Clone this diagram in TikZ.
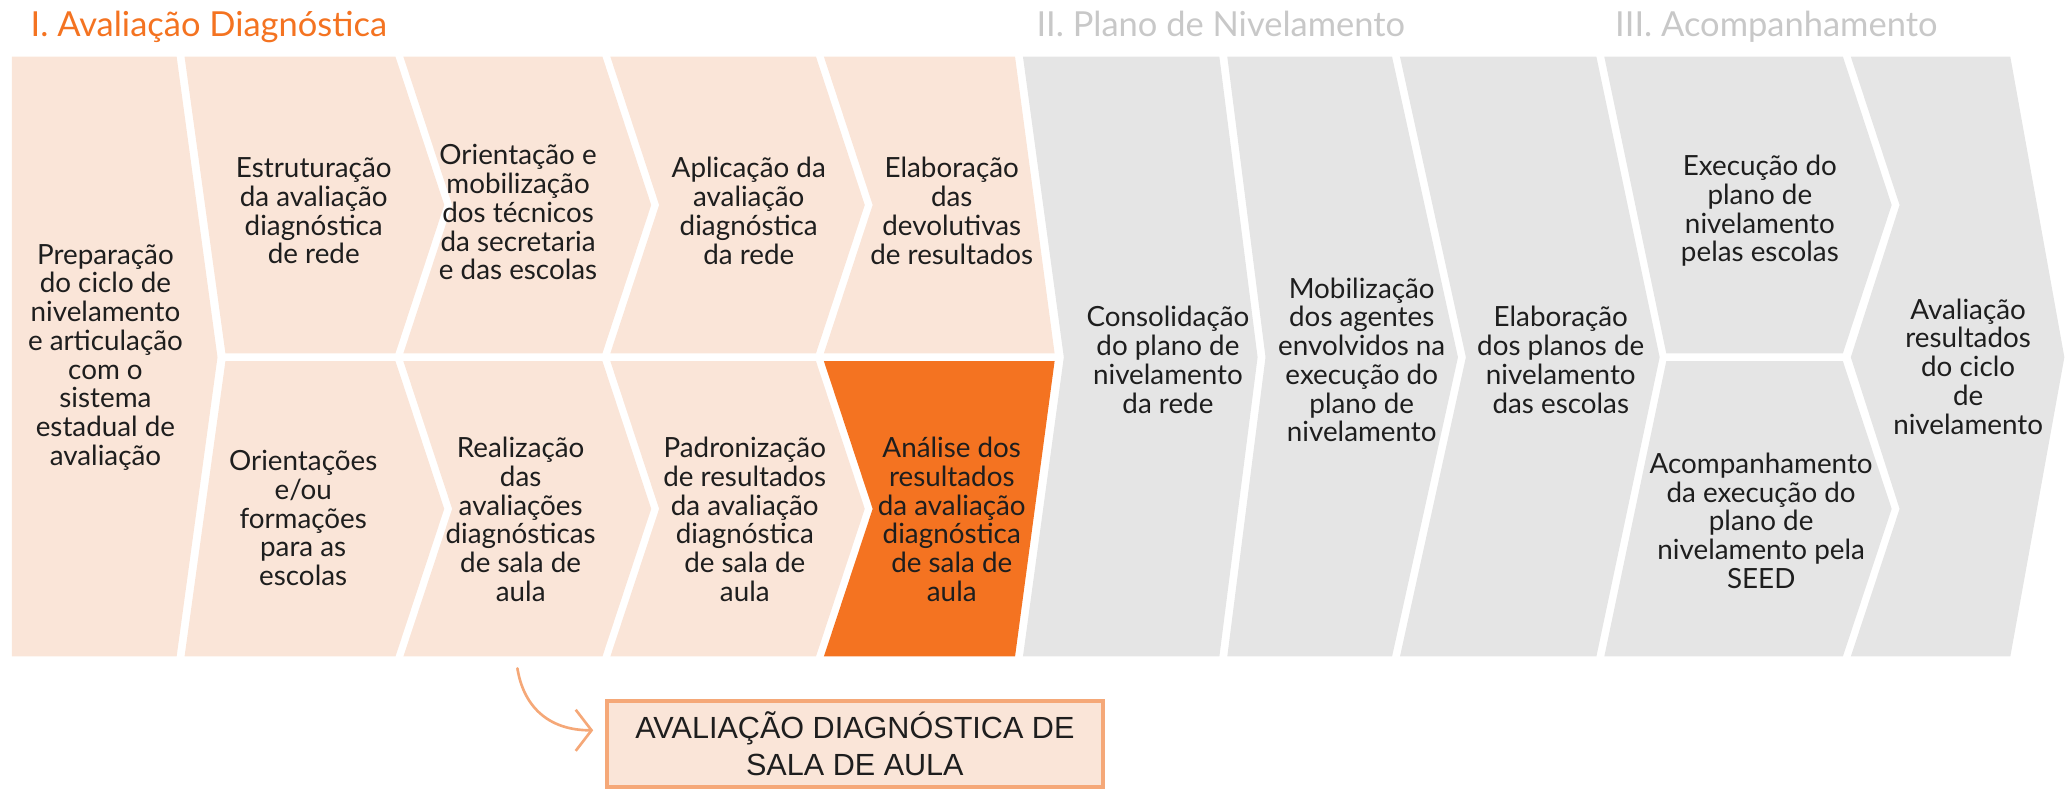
\documentclass[tikz,border=0pt]{standalone}
\usepackage{fontspec}
\setmainfont{Lato}
\newfontfamily\capsfont{Liberation Sans}
\usetikzlibrary{arrows.meta}

\definecolor{pessego}{HTML}{FAE5D8}
\definecolor{laranja}{HTML}{F47321}
\definecolor{cinza}{HTML}{E5E5E5}
\definecolor{cinzatitulo}{HTML}{C8C8C8}
\definecolor{salmao}{HTML}{F5A878}
\definecolor{texto}{HTML}{1E1E1E}

\begin{document}
\begin{tikzpicture}[yscale=-1, x=0.025cm, y=0.025cm,
    celltext/.style={align=center, text=texto, inner sep=0pt, font=\fontsize{15}{15.5}\selectfont},
    phasetitle/.style={anchor=base west, inner sep=0pt, font=\fontsize{18.6}{20}\selectfont}]
    \useasboundingbox (0,0) rectangle (1568,599);

    % Draw the phase titles
    \node[phasetitle, text=laranja] (faseUm) at (23,28) {I. Avaliação Diagnóstica};
    \node[phasetitle, text=cinzatitulo] (faseDois) at (786,28) {II. Plano de Nivelamento};
    \node[phasetitle, text=cinzatitulo] (faseTres) at (1225,28) {III. Acompanhamento};

    % Draw the chevrons of phase I
    \fill[pessego] (9,43) -- (134,43) -- (165,271) -- (134,498) -- (9,498) -- cycle;
    \fill[pessego] (140,43) -- (300,43) -- (337,155.5) -- (300,268) -- (171,268) -- cycle;
    \fill[pessego] (171,274) -- (300,274) -- (337,386) -- (300,498) -- (140,498) -- cycle;
    \fill[pessego] (306,43) -- (457,43) -- (494,155.5) -- (457,268) -- (306,268) -- (343,155.5) -- cycle;
    \fill[pessego] (306,274) -- (457,274) -- (494,386) -- (457,498) -- (306,498) -- (343,386) -- cycle;
    \fill[pessego] (463,43) -- (619,43) -- (656,155.5) -- (619,268) -- (463,268) -- (500,155.5) -- cycle;
    \fill[pessego] (463,274) -- (619,274) -- (656,386) -- (619,498) -- (463,498) -- (500,386) -- cycle;
    \fill[pessego] (625,43) -- (770,43) -- (800,268) -- (625,268) -- (662,155.5) -- cycle;
    \fill[laranja] (625,274) -- (800,274) -- (770,498) -- (625,498) -- (662,386) -- cycle;

    % Draw the chevrons of phases II and III
    \fill[cinza] (776,43) -- (925,43) -- (954,271) -- (925,498) -- (776,498) -- (807,271) -- cycle;
    \fill[cinza] (931,43) -- (1056,43) -- (1106,271) -- (1056,498) -- (931,498) -- (960,271) -- cycle;
    \fill[cinza] (1062,43) -- (1211,43) -- (1259,271) -- (1211,498) -- (1062,498) -- (1112,271) -- cycle;
    \fill[cinza] (1217,43) -- (1398,43) -- (1435,155.5) -- (1398,268) -- (1264,268) -- cycle;
    \fill[cinza] (1264,274) -- (1398,274) -- (1435,386) -- (1398,498) -- (1217,498) -- cycle;
    \fill[cinza] (1404,43) -- (1525,43) -- (1566,271) -- (1525,498) -- (1404,498) -- (1441,386)
        -- (1404,271) -- (1441,155.5) -- cycle;

    % Draw the step labels
    \node[celltext] (prep) at (80,271) {Preparação\\do ciclo de\\nivelamento\\e articulação\\com o\\sistema\\estadual de\\avaliação};
    \node[celltext] (estrut) at (238,160) {Estruturação\\da avaliação\\diagnóstica\\de rede};
    \node[celltext] (orientTec) at (393,161) {Orientação e\\mobilização\\dos técnicos\\da secretaria\\e das escolas};
    \node[celltext] (aplic) at (568,160) {Aplicação da\\avaliação\\diagnóstica\\da rede};
    \node[celltext] (devol) at (722,160) {Elaboração\\das\\devolutivas\\de resultados};
    \node[celltext] (orientEsc) at (230,393) {Orientações\\e/ou\\formações\\para as\\escolas};
    \node[celltext] (realiz) at (395,394) {Realização\\das\\avaliações\\diagnósticas\\de sala de\\aula};
    \node[celltext] (padron) at (565,394) {Padronização\\de resultados\\da avaliação\\diagnóstica\\de sala de\\aula};
    \node[celltext] (analise) at (722,394) {Análise dos\\resultados\\da avaliação\\diagnóstica\\de sala de\\aula};
    \node[celltext] (consol) at (886,273) {Consolidação\\do plano de\\nivelamento\\da rede};
    \node[celltext] (mobil) at (1033,273) {Mobilização\\dos agentes\\envolvidos na\\execução do\\plano de\\nivelamento};
    \node[celltext] (elabEsc) at (1184,273) {Elaboração\\dos planos de\\nivelamento\\das escolas};
    \node[celltext] (execEsc) at (1335,160) {Execução do\\plano de\\nivelamento\\pelas escolas};
    \node[celltext] (acomp) at (1336,395) {Acompanhamento\\da execução do\\plano de\\nivelamento pela\\SEED};
    \node[celltext] (avalRes) at (1493,278) {Avaliação\\resultados\\do ciclo\\de\\nivelamento};

    % Draw the classroom box and the arrow
    \node[draw=salmao, line width=0.075cm, fill=pessego, minimum width=9.4cm, minimum height=1.64cm,
        inner sep=0pt, align=center, text=texto, font=\capsfont\fontsize{16.5}{19.9}\selectfont]
        (sala) at (648.5,564.25) {AVALIAÇÃO DIAGNÓSTICA DE\\SALA DE AULA};
    \coordinate (arrStart) at (392.5,507);
    \coordinate (arrTip) at (450,554);
    \draw[salmao, line width=0.05cm, line cap=round, -{Straight Barb[length=0.3cm, width=0.78cm]}]
        (arrStart) .. controls (397,535) and (415,554) .. (arrTip);
  \end{tikzpicture}
\end{document}
